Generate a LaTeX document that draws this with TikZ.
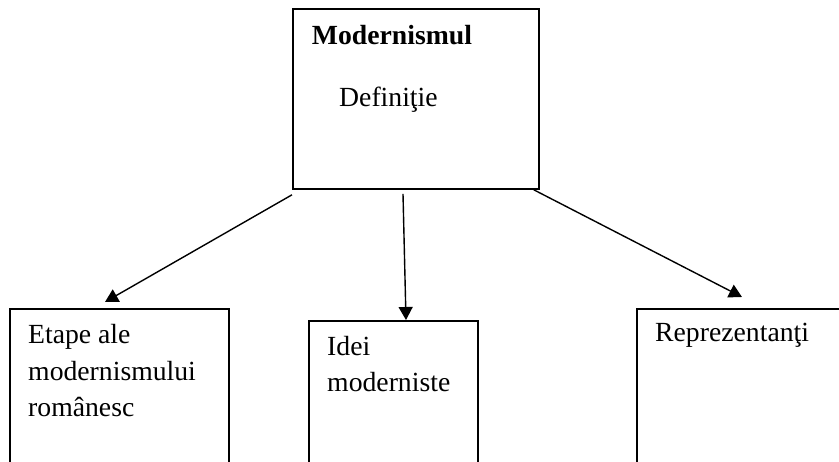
\documentclass[tikz,border=0pt]{standalone}
\usepackage{fontspec}
\setmainfont{Liberation Serif}
\usetikzlibrary{arrows.meta,calc}
\begin{document}
\begin{tikzpicture}[x=1pt,y=-1pt,
  box/.style={draw=black,line width=1.8pt,anchor=north west,inner sep=0pt,rectangle},
  txt/.style={anchor=base west,inner sep=0pt,align=left,font=\fontsize{27.7}{36.7}\selectfont},
  conn/.style={line width=1.4pt,-{Triangle[length=13pt,width=14pt]}}]
\useasboundingbox (0,0) rectangle (839,462);
\clip (0,0) rectangle (839,462);
\fill[white] (0,0) rectangle (839,462);
% boxes
\node[box,minimum width=246pt,minimum height=180pt] (top) at (292,8) {};
\node[box,minimum width=219pt,minimum height=180pt] (left) at (9,308) {};
\node[box,minimum width=169pt,minimum height=170pt] (mid) at (308,320) {};
\node[box,minimum width=230pt,minimum height=180pt] (right) at (636,308) {};
% texts (multi-line nodes: base = last baseline)
\node[txt,font=\fontsize{27.7}{36.7}\selectfont\bfseries] (t0) at (311.7,45) {Modernismul};
\node[txt] (t1) at (339,106.7) {Definiţie};
\node[txt] (t2) at (28,417) {Etape ale\\modernismului\\românesc};
\node[txt] (t3) at (327,392) {Idei\\moderniste};
\node[txt] (t4) at (655,342) {Reprezentanţi};
% connectors
\coordinate (a1) at ($(top.south west)+(0,5)$);
\coordinate (a2) at ($(left.north west)+(96,-6)$);
\coordinate (b1) at ($(top.south west)+(111,4)$);
\coordinate (b2) at ($(mid.north west)+(98,0)$);
\coordinate (c1) at ($(top.south east)+(-6,0)$);
\coordinate (c2) at ($(right.north west)+(106,-11)$);
\draw[conn] (a1) -- (a2);
\draw[conn] (b1) -- (b2);
\draw[conn] (c1) -- (c2);
\end{tikzpicture}
\end{document}
